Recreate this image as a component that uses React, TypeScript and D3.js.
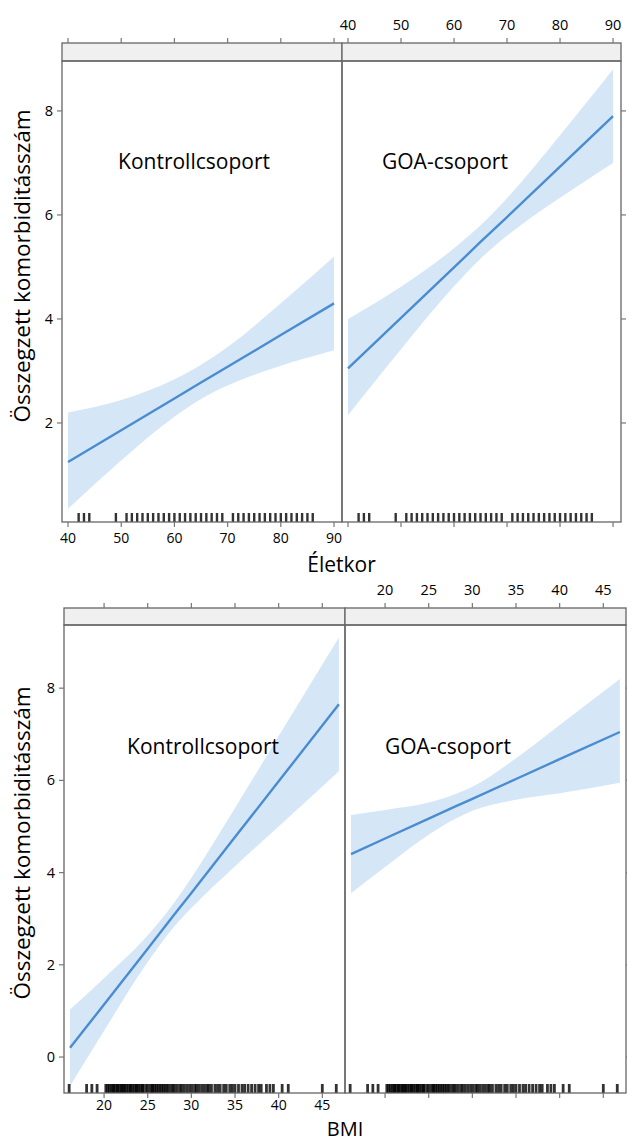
import React from "react";
import * as d3 from "d3";

// ---------- DATA ----------
const groups = ["Kontrollcsoport", "GOA-csoport"];

const ageTicks = [40, 50, 60, 70, 80, 90];
const bmiTicks = [20, 25, 30, 35, 40, 45];
const yTicksAge = [2, 4, 6, 8];
const yTicksBmi = [0, 2, 4, 6, 8];

// Életkor effect (x, fit, lower, upper) per group
const ageX = [40, 50, 60, 65, 70, 80, 90];
const ageFitKontroll = [1.25, 1.86, 2.47, 2.78, 3.08, 3.69, 4.3];
const ageLoKontroll = [0.35, 1.28, 2.12, 2.46, 2.72, 3.1, 3.4];
const ageHiKontroll = [2.2, 2.44, 2.84, 3.12, 3.46, 4.3, 5.2];
const ageFitGoa = [3.05, 4.02, 4.99, 5.48, 5.96, 6.93, 7.9];
const ageLoGoa = [2.15, 3.42, 4.63, 5.16, 5.6, 6.33, 7.0];
const ageHiGoa = [4.0, 4.62, 5.36, 5.8, 6.32, 7.53, 8.8];

// BMI effect
const bmiX = [16.1, 20, 25, 28, 30, 35, 40, 46.9];
const bmiFitKontroll = [0.2, 1.14, 2.35, 3.08, 3.56, 4.77, 5.98, 7.65];
const bmiLoKontroll = [-0.63, 0.57, 2.06, 2.82, 3.23, 4.14, 5.0, 6.2];
const bmiHiKontroll = [1.03, 1.71, 2.64, 3.34, 3.89, 5.4, 6.96, 9.1];
const bmiFitGoa = [4.4, 4.74, 5.17, 5.43, 5.6, 6.03, 6.46, 7.05];
const bmiLoGoa = [3.55, 4.12, 4.82, 5.16, 5.34, 5.58, 5.72, 5.95];
const bmiHiGoa = [5.25, 5.36, 5.52, 5.7, 5.86, 6.48, 7.2, 8.2];

// rug values
const ageRug = [42, 43, 44, 49, 51, 52, 53, 54, 55, 56, 57, 58, 59, 60, 61, 62, 63, 64, 65, 66, 67, 68, 69, 71, 72, 73, 74, 75, 76, 77, 78, 79, 80, 81, 82, 83, 84, 85, 86];
const bmiRug = [16.0, 18.0, 18.6, 19.2, 20.2, 20.4, 20.6, 20.8, 21.0, 21.1, 21.3, 21.5, 21.6, 21.8, 22.0, 22.1, 22.3, 22.4, 22.6, 22.8, 23.0, 23.1, 23.3, 23.5, 23.7, 23.8, 24.0, 24.2, 24.4, 24.5, 24.8, 25.0, 25.3, 25.5, 25.6, 25.8, 26.0, 26.2, 26.4, 26.6, 26.8, 27.0, 27.2, 27.4, 27.7, 27.9, 28.1, 28.4, 28.7, 28.9, 29.2, 29.5, 29.8, 30.1, 30.4, 30.6, 30.9, 31.2, 31.5, 31.8, 32.0, 32.3, 32.7, 33.0, 33.3, 33.7, 34.0, 34.4, 34.7, 35.0, 35.4, 35.8, 36.1, 36.5, 36.9, 37.3, 37.7, 38.0, 38.6, 39.0, 39.4, 40.4, 41.1, 45.0, 46.6];

// ---------- STYLE ----------
const FONT = "'Open Sans', 'DejaVu Sans', sans-serif";
const LINE = "#4a8cd0";
const BAND = "#d5e7f7";
const FRAME = "#666";
const TICK = "#777";

type Series = { fit: number[]; lo: number[]; hi: number[] };

type FigProps = {
  stripTop: number;
  panelTop: number;
  panelBottom: number;
  left: number;
  mid: number;
  right: number;
  xDomain: [number, number];
  yDomain: [number, number];
  xTicks: number[];
  yTicks: number[];
  xs: number[];
  series: Series[];
  rug: number[];
  rugWidth: number;
  rugOpacity: number;
  xTitle: string;
  xTitleY: number;
  xTitleSize: number;
  xLabelY: number;
  yTitleCenter: number;
  labelPos: { x: number; y: number; anchor: string }[];
};

function Figure(p: FigProps) {
  const panels = [
    [p.left, p.mid],
    [p.mid, p.right],
  ];
  const y = d3.scaleLinear().domain(p.yDomain).range([p.panelBottom, p.panelTop]);
  const tl = 5;
  return (
    <g>
      {panels.map(([x0, x1], i) => {
        const x = d3.scaleLinear().domain(p.xDomain).range([x0, x1]);
        const s = p.series[i];
        const pts = p.xs.map((v, k) => ({ x: v, fit: s.fit[k], lo: s.lo[k], hi: s.hi[k] }));
        const area = d3
          .area<any>()
          .x((d) => x(d.x))
          .y0((d) => y(d.lo))
          .y1((d) => y(d.hi))
          .curve(d3.curveMonotoneX);
        const line = d3
          .line<any>()
          .x((d) => x(d.x))
          .y((d) => y(d.fit));
        const clipId = `clip-${p.panelTop}-${i}`;
        return (
          <g key={i}>
            <defs>
              <clipPath id={clipId}>
                <rect x={x0} y={p.panelTop} width={x1 - x0} height={p.panelBottom - p.panelTop} />
              </clipPath>
            </defs>
            {/* strip */}
            <rect x={x0} y={p.stripTop} width={x1 - x0} height={p.panelTop - p.stripTop} fill="#f0f0f0" stroke={FRAME} strokeWidth={1.3} />
            <g clipPath={`url(#${clipId})`}>
              <path d={area(pts) || ""} fill={BAND} />
              <path d={line(pts) || ""} fill="none" stroke={LINE} strokeWidth={2.4} />
              {p.rug.map((r, k) => (
                <line key={k} x1={x(r)} x2={x(r)} y1={p.panelBottom - 9} y2={p.panelBottom} stroke="#000" strokeOpacity={p.rugOpacity} strokeWidth={p.rugWidth} />
              ))}
            </g>
            <rect x={x0} y={p.panelTop} width={x1 - x0} height={p.panelBottom - p.panelTop} fill="none" stroke={FRAME} strokeWidth={1.3} />
            {/* top ticks */}
            {p.xTicks.map((t) => (
              <line key={"tt" + t} x1={x(t)} x2={x(t)} y1={p.stripTop} y2={p.stripTop - tl} stroke={TICK} strokeWidth={1.2} />
            ))}
            {/* bottom ticks */}
            {p.xTicks.map((t) => (
              <line key={"bt" + t} x1={x(t)} x2={x(t)} y1={p.panelBottom} y2={p.panelBottom + tl} stroke={TICK} strokeWidth={1.2} />
            ))}
            {i === 0 &&
              p.xTicks.map((t) => (
                <text key={"bl" + t} x={x(t)} y={p.xLabelY} textAnchor="middle" fontSize={14} fontFamily={FONT}>
                  {t}
                </text>
              ))}
            {i === 1 &&
              p.xTicks.map((t) => (
                <text key={"tl" + t} x={x(t)} y={p.stripTop - 13} textAnchor="middle" fontSize={14.5} fontFamily={FONT}>
                  {t}
                </text>
              ))}
            {/* y ticks */}
            {p.yTicks.map((t) => (
              <line key={"yt" + t} x1={i === 0 ? x0 : x1} x2={i === 0 ? x0 - tl : x1 + tl} y1={y(t)} y2={y(t)} stroke={TICK} strokeWidth={1.2} />
            ))}
            {i === 0 &&
              p.yTicks.map((t) => (
                <text key={"yl" + t} x={x0 - 9} y={y(t) + 5} textAnchor="end" fontSize={14.5} fontFamily={FONT}>
                  {t}
                </text>
              ))}
            <text x={p.labelPos[i].x} y={p.labelPos[i].y} textAnchor={p.labelPos[i].anchor as any} fontSize={21} fontFamily={FONT}>
              {groups[i]}
            </text>
          </g>
        );
      })}
      <text x={(p.left + p.right) / 2} y={p.xTitleY} textAnchor="middle" fontSize={p.xTitleSize} fontFamily={FONT}>
        {p.xTitle}
      </text>
      <text
        transform={`translate(30, ${p.yTitleCenter}) rotate(-90)`}
        textAnchor="middle"
        fontSize={22.5}
        fontFamily={FONT}
      >
        Összegzett komorbiditásszám
      </text>
    </g>
  );
}

export default function App() {
  return (
    <svg width={627} height={1141} style={{ position: "absolute", left: 0, top: 0, background: "#fff" }}>
      <rect x={0} y={0} width={627} height={1141} fill="#fff" />
      <Figure
        stripTop={43}
        panelTop={61}
        panelBottom={522}
        left={62}
        mid={342}
        right={621}
        xDomain={[38.87, 91.5]}
        yDomain={[0.096, 8.96]}
        xTicks={ageTicks}
        yTicks={yTicksAge}
        xs={ageX}
        series={[
          { fit: ageFitKontroll, lo: ageLoKontroll, hi: ageHiKontroll },
          { fit: ageFitGoa, lo: ageLoGoa, hi: ageHiGoa },
        ]}
        rug={ageRug}
        rugWidth={2.4}
        rugOpacity={0.8}
        xTitle="Életkor"
        xTitleY={572}
        xTitleSize={21}
        xLabelY={543}
        yTitleCenter={266}
        labelPos={[
          { x: 194, y: 169, anchor: "middle" },
          { x: 382, y: 169, anchor: "start" },
        ]}
      />
      <Figure
        stripTop={608}
        panelTop={625}
        panelBottom={1093}
        left={64}
        mid={345}
        right={626}
        xDomain={[15.41, 47.6]}
        yDomain={[-0.78, 9.37]}
        xTicks={bmiTicks}
        yTicks={yTicksBmi}
        xs={bmiX}
        series={[
          { fit: bmiFitKontroll, lo: bmiLoKontroll, hi: bmiHiKontroll },
          { fit: bmiFitGoa, lo: bmiLoGoa, hi: bmiHiGoa },
        ]}
        rug={bmiRug}
        rugWidth={2.8}
        rugOpacity={0.8}
        xTitle="BMI"
        xTitleY={1136}
        xTitleSize={20}
        xLabelY={1110}
        yTitleCenter={843}
        labelPos={[
          { x: 203, y: 754, anchor: "middle" },
          { x: 385, y: 754, anchor: "start" },
        ]}
      />
    </svg>
  );
}
